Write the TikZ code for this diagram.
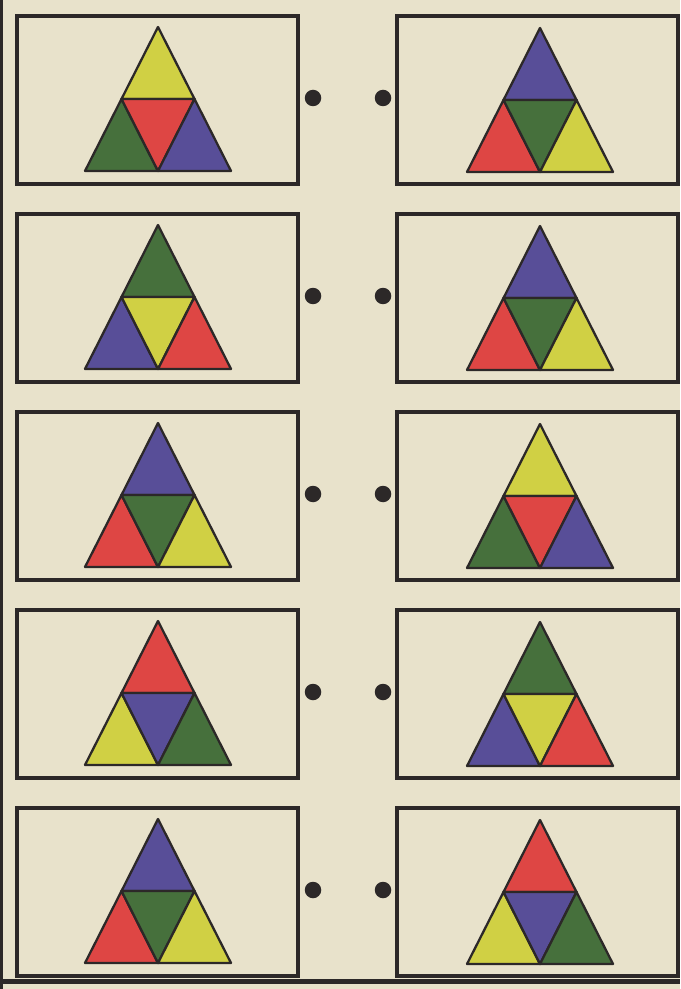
\documentclass[tikz,border=0pt]{standalone}
\usepackage{tikz}
\usepackage{xcolor}

\definecolor{paper}{RGB}{232,226,203}
\definecolor{ink}{RGB}{44,40,40}
\definecolor{tyellow}{RGB}{208,208,68}
\definecolor{tred}{RGB}{222,70,68}
\definecolor{tgreen}{RGB}{70,112,60}
\definecolor{tblue}{RGB}{88,78,152}

\tikzset{
  frame/.style={draw=ink, line width=2pt},
  piece/.style={draw=ink, line width=1.3pt, line join=round},
  spot/.style={fill=ink}
}

% One triangle split in four: apex x, apex y, then top/left/middle/right colours
\newcommand{\splittri}[6]{%
  \coordinate (A) at (#1,#2);
  \coordinate (B) at (#1-\triw,#2+\trih);
  \coordinate (C) at (#1+\triw,#2+\trih);
  \coordinate (AB) at (#1-\triw/2,#2+\trih/2);
  \coordinate (AC) at (#1+\triw/2,#2+\trih/2);
  \coordinate (BC) at (#1,#2+\trih);
  \filldraw[piece, fill=#3] (A) -- (AB) -- (AC) -- cycle;
  \filldraw[piece, fill=#4] (AB) -- (B) -- (BC) -- cycle;
  \filldraw[piece, fill=#5] (AB) -- (AC) -- (BC) -- cycle;
  \filldraw[piece, fill=#6] (AC) -- (BC) -- (C) -- cycle;
}

\begin{document}
\begin{tikzpicture}[x=0.02cm,y=-0.02cm]

% Parameters for drawing only (pixels)
\def\boxw{281}
\def\boxh{168}
\def\pitch{198}
\def\triw{73}
\def\trih{144}

% Paper
\fill[paper] (0,0) rectangle (680,989);
\useasboundingbox (0,0) rectangle (680,989);

% Page edges
\fill[ink] (0,0) rectangle (3,989);
\fill[ink] (0,979) rectangle (680,984);

% Rows of cards: left top/left/middle/right, right top/left/middle/right
\foreach \r/\la/\lb/\lc/\ld/\ra/\rb/\rc/\rd in {
  0/tyellow/tgreen/tred/tblue/tblue/tred/tgreen/tyellow,
  1/tgreen/tblue/tyellow/tred/tblue/tred/tgreen/tyellow,
  2/tblue/tred/tgreen/tyellow/tyellow/tgreen/tred/tblue,
  3/tred/tyellow/tblue/tgreen/tgreen/tblue/tyellow/tred,
  4/tblue/tred/tgreen/tyellow/tred/tyellow/tblue/tgreen}{
  \pgfmathsetmacro{\rowtop}{16+\r*\pitch}

  % Cards
  \draw[frame] (17,\rowtop) rectangle ++(\boxw,\boxh);
  \draw[frame] (397,\rowtop) rectangle ++(\boxw,\boxh);

  % Triangles
  \splittri{158}{\rowtop+11}{\la}{\lb}{\lc}{\ld}
  \splittri{540}{\rowtop+12}{\ra}{\rb}{\rc}{\rd}

  % Dots between the cards
  \fill[spot] (313,\rowtop+82) circle (0.165cm);
  \fill[spot] (383,\rowtop+82) circle (0.165cm);
}

\end{tikzpicture}
\end{document}
